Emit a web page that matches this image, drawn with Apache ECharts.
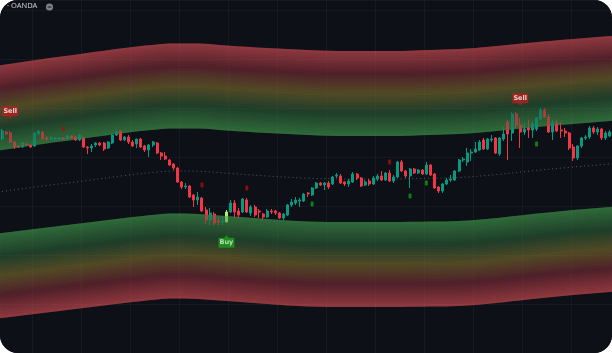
<!DOCTYPE html>
<html>
<head>
<meta charset="utf-8">
<script src="https://cdn.jsdelivr.net/npm/echarts@6/dist/echarts.min.js"></script>
<style>
html, body { margin: 0; padding: 0; background: #ffffff; }
#main { width: 612px; height: 353px; border-radius: 18px; overflow: hidden; background: #0d1017; }
</style>
</head>
<body>
<div id="main"></div>
<script>
/************ candles (index 0..149) ************/
var candleOpen = [
  214,221,220,211,207,206,209,208,207,219, 221,215,214,214,214,215,214,217,216,213,
  215,206,205,208,210,210,205,210,218,222, 213,216,211,209,214,207,203,208,210,200,
  197,193,189,185,171,166,167,158,153,155, 143,133,139,132,131,131,141,150,142,141,
  153,140,146,142,139,136,142,142,140,135, 138,148,150,152,152,160,158,165,170,168,
  170,169,177,177,171,169,171,179,175,168, 172,169,174,177,173,180,172,176,191,182,
  177,184,180,183,179,188,179,166,162,169, 173,173,182,193,191,200,201,203,213,204,
  213,215,199,214,231,220,239,228,221,225, 223,224,234,243,236,221,230,223,222,220,
  206,195,207,215,216,225,221,224,215,217
];
var candleClose = [
  222,219,211,206,206,210,208,206,220,222, 214,214,215,215,215,214,217,215,213,218,
  206,205,207,210,208,204,211,218,221,213, 216,211,207,214,206,203,208,211,200,197,
  194,188,185,171,166,167,156,153,156,142, 133,140,130,131,132,141,150,141,138,154,
  141,146,138,141,136,142,141,140,135,139, 148,151,153,153,159,159,165,170,168,170,
  166,176,178,170,169,172,179,175,167,171, 169,175,177,173,180,172,176,191,182,177,
  184,180,183,179,188,178,165,162,169,173, 174,182,193,194,200,201,204,211,204,214,
  214,200,215,219,219,239,228,221,224,223, 229,235,243,236,221,230,222,222,220,205,
  195,207,215,216,225,221,224,215,220,221
];
var candleLow = [
  213,218,210,204,205,205,207,205,206,218, 213,212,213,213,213,213,213,214,212,212,
  205,199,201,206,207,202,204,209,217,212, 212,209,206,205,205,201,196,206,199,193,
  193,187,183,170,164,164,155,146,148,141, 129,128,128,128,128,131,140,135,135,140,
  140,137,136,135,133,135,139,138,134,133, 137,146,148,146,151,156,157,164,167,163,
  164,168,175,169,167,166,170,173,166,167, 167,168,172,172,172,171,170,175,181,175,
  165,179,179,178,178,177,164,160,160,168, 171,172,181,191,187,192,200,202,203,203,
  211,199,197,212,193,212,225,205,218,215, 215,222,233,235,220,213,221,215,216,203,
  192,193,205,213,214,219,218,213,213,216
];
var candleHigh = [
  224,222,222,212,208,211,210,209,221,223, 222,217,217,216,216,216,218,218,217,219,
  216,207,209,211,211,211,212,219,222,223, 217,218,213,214,215,208,209,212,211,201,
  201,194,190,186,172,170,168,159,161,156, 146,145,141,135,136,143,153,153,145,155,
  155,148,148,144,140,144,144,143,141,140, 149,154,156,155,160,161,166,171,171,171,
  172,177,180,179,172,174,181,180,176,173, 174,177,179,182,181,183,178,192,193,183,
  185,185,184,184,191,189,180,167,170,175, 178,183,194,196,205,204,211,213,215,215,
  218,216,216,226,233,241,241,235,230,233, 231,236,245,245,239,233,233,231,225,221,
  209,208,216,218,227,227,226,225,222,223
];

/************ bands and midline (control points by candle index) ************/
var bandIdx   = [-1, 0, 10, 20, 30, 38, 42, 48, 55, 65, 75, 85, 95, 105, 112, 120, 130, 140, 149, 150];
var upperBase = [202.5, 203, 209, 214.5, 220, 223.5, 224.5, 224.5, 222.5, 220, 218, 217, 217, 218, 219, 221.5, 225.5, 229, 232, 232.5];
var lowerBase = [34.5, 35, 40, 45, 50, 53.5, 54.5, 54, 52, 49, 46.5, 46, 46, 46.5, 47, 49.5, 54, 58, 61, 61.5];
var bandWidth = 85;
var midLine   = [161, 161.5, 167, 172, 177.5, 181, 182, 181.8, 179.8, 177, 174.8, 174, 174, 174.8, 175.5, 178, 182.2, 186, 189, 189.4];

/************ signals ************/
var redDotIdx = [15, 49, 60, 95];
var redDotVal = [224, 168, 165, 191];
var greenDotIdx = [76, 100, 104, 131];
var greenDotVal = [149, 157, 170, 209];
var sellIdx = [2, 127];
var buyIdx = [55];

var BG = '#0d1017';

// colour across a band, t = 0 at the red edge, 1 at the green edge
var bandStops = [
  [0.00, [144, 57, 63]],
  [0.27, [80, 33, 42]],
  [0.50, [82, 74, 38]],
  [0.73, [31, 62, 42]],
  [1.00, [48, 108, 58]]
];
function colorAt(t) {
  for (var i = 1; i < bandStops.length; i++) {
    if (t <= bandStops[i][0]) {
      var a = bandStops[i - 1], b = bandStops[i];
      var f = (t - a[0]) / (b[0] - a[0]);
      var c = a[1].map(function (v, k) { return Math.round(v + (b[1][k] - v) * f); });
      return 'rgb(' + c.join(',') + ')';
    }
  }
  return 'rgb(' + bandStops[bandStops.length - 1][1].join(',') + ')';
}

var LAYERS = 34;
var series = [];
var zStep = 0;

// one line whose area fills down to the bottom of the chart; later ones paint over earlier ones
function areaLine(levels, color) {
  zStep += 0.005;
  return {
    type: 'line', xAxisIndex: 1, smooth: 0.35, symbol: 'none', silent: true, z: 1 + zStep,
    lineStyle: { width: 0, opacity: 0 },
    areaStyle: { color: color, opacity: 1, origin: 'start' },
    data: bandIdx.map(function (x, j) { return [x, levels[j]]; })
  };
}

function addBand(base, redOnTop) {
  for (var k = 0; k < LAYERS; k++) {
    var frac = (LAYERS - k) / LAYERS;
    var mid = frac - 0.5 / LAYERS;
    var t = redOnTop ? 1 - mid : mid;
    series.push(areaLine(base.map(function (v) { return v + bandWidth * frac; }), colorAt(t)));
  }
  // clear everything below the band edge again
  series.push(areaLine(base, BG));
}
addBand(upperBase, true);
addBand(lowerBase, false);

// thin see-through copy of each band above the candles, so bars inside a band look dimmed
var OVER_ALPHA = 0.38;
function addOverlay(key, base, redOnTop) {
  var idx = bandIdx.slice(1, -1);
  var b = base.slice(1, -1);
  series.push({
    type: 'line', xAxisIndex: 0, stack: key, smooth: 0.35, symbol: 'none', silent: true, z: 4.5,
    lineStyle: { width: 0, opacity: 0 },
    data: idx.map(function (x, j) { return [x, b[j]]; })
  });
  for (var j = 0; j < LAYERS; j++) {
    var mid = (j + 0.5) / LAYERS;
    var t = redOnTop ? 1 - mid : mid;
    series.push({
      type: 'line', xAxisIndex: 0, stack: key, smooth: 0.35, symbol: 'none', silent: true, z: 4.5,
      lineStyle: { width: 0, opacity: 0 },
      areaStyle: { color: colorAt(t), opacity: OVER_ALPHA },
      data: idx.map(function (x) { return [x, bandWidth / LAYERS]; })
    });
  }
}
addOverlay('ovUp', upperBase, true);
addOverlay('ovLo', lowerBase, false);

series.push({
  type: 'line', xAxisIndex: 1, smooth: 0.35, symbol: 'none', silent: true, z: 3,
  lineStyle: { color: 'rgba(130,136,148,0.6)', width: 1, type: [1, 3] },
  data: bandIdx.map(function (x, j) { return [x, midLine[j]]; })
});

var candleData = candleOpen.map(function (o, i) {
  var item = { value: [o, candleClose[i], candleLow[i], candleHigh[i]] };
  if (buyIdx.indexOf(i) >= 0) {
    item.itemStyle = { color: '#a6f26a', borderColor: '#a6f26a' };
  }
  return item;
});

series.push({
  type: 'candlestick', xAxisIndex: 0, z: 4, barWidth: 2.5,
  itemStyle: { color: '#089981', color0: '#f23645', borderColor: '#089981', borderColor0: '#f23645', borderWidth: 1 },
  data: candleData
});

series.push({
  type: 'scatter', xAxisIndex: 0, z: 5, symbol: 'roundRect', symbolSize: [3, 5],
  itemStyle: { color: '#a3100f' },
  data: redDotIdx.map(function (x, j) { return [x, redDotVal[j]]; })
});
series.push({
  type: 'scatter', xAxisIndex: 0, z: 5, symbol: 'roundRect', symbolSize: [3, 5],
  itemStyle: { color: '#139a13' },
  data: greenDotIdx.map(function (x, j) { return [x, greenDotVal[j]]; })
});

series.push({
  type: 'scatter', xAxisIndex: 0, z: 6,
  symbol: 'path://M1,0 H15 Q16,0 16,1 V9 Q16,10 15,10 H10 L8,12.5 L6,10 H1 Q0,10 0,9 V1 Q0,0 1,0 Z',
  symbolSize: [16, 12.5], symbolOffset: [0, -18.5],
  itemStyle: { color: '#b3201f' },
  label: { show: true, position: 'inside', formatter: 'Sell', color: '#ffffff', fontSize: 6.5, fontWeight: 'bold', fontFamily: 'DejaVu Sans', offset: [0, -1.25] },
  data: sellIdx.map(function (i) { return [i, candleHigh[i]]; })
});
series.push({
  type: 'scatter', xAxisIndex: 0, z: 6,
  symbol: 'path://M8,0 L10,2.5 H15 Q16,2.5 16,3.5 V11.5 Q16,12.5 15,12.5 H1 Q0,12.5 0,11.5 V3.5 Q0,2.5 1,2.5 H6 Z',
  symbolSize: [16, 12.5], symbolOffset: [0, 19.5],
  itemStyle: { color: '#1e9e1e' },
  label: { show: true, position: 'inside', formatter: 'Buy', color: '#d8f7d8', fontSize: 6.5, fontWeight: 'bold', fontFamily: 'DejaVu Sans', offset: [0, 1.25] },
  data: buyIdx.map(function (i) { return [i, candleLow[i]]; })
});

var myChart = echarts.init(document.getElementById('main'));

var option = {
  backgroundColor: BG,
  animation: false,
  grid: { left: -1, right: -2, top: 0, bottom: 0 },
  xAxis: [{
    type: 'category', z: 2.5,
    data: candleOpen.map(function (v, i) { return String(i + 1); }),
    axisLine: { show: false }, axisTick: { show: false }, axisLabel: { show: false },
    splitLine: {
      show: true,
      interval: function (index) { return index >= 8 && (index - 8) % 12 === 0; },
      lineStyle: { color: 'rgba(255,255,255,0.04)', width: 1 }
    }
  }, {
    type: 'value', min: -0.5, max: 149.5, show: false
  }],
  yAxis: [{
    type: 'value', min: 0, max: 353, show: false
  }, {
    type: 'value', min: -33, max: 320, interval: 49, z: 2.5,
    axisLine: { show: false }, axisTick: { show: false }, axisLabel: { show: false },
    splitLine: { show: true, lineStyle: { color: 'rgba(255,255,255,0.035)', width: 1 } }
  }],
  graphic: [
    { type: 'text', left: 7, top: 2, style: { text: '· OANDA', fill: '#c9ccd4', font: '7.5px "Noto Sans", sans-serif' } },
    { type: 'circle', shape: { cx: 49.5, cy: 7, r: 3.6 }, style: { fill: '#7d818b' } },
    { type: 'rect', shape: { x: 47.6, y: 6.5, width: 3.8, height: 1 }, style: { fill: '#14171e' } }
  ],
  series: series
};

myChart.setOption(option);
</script>
</body>
</html>
